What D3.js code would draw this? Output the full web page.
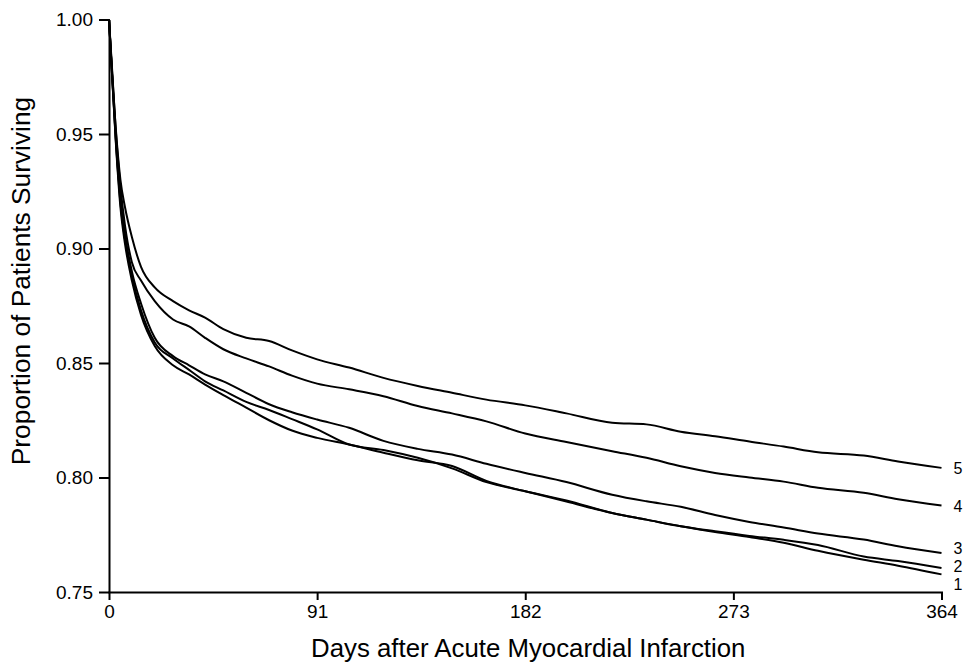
<!DOCTYPE html>
<html>
<head>
<meta charset="utf-8">
<script src="https://cdn.jsdelivr.net/npm/d3@7"></script>
<style>
    body { margin: 0; background: #fff; }
    #chart { width: 964px; height: 663px; }
    text { font-family: "Liberation Sans", Arial, Helvetica, sans-serif; fill: #000; }
</style>
</head>
<body>
<div id="chart"></div>
<script>
// ===== DATA =====
const days = [0, 1, 3, 5, 7, 10, 14, 20, 28, 35, 42, 50, 60, 70, 80, 91, 105, 120, 135, 150,
    165, 182, 200, 220, 235, 250, 265, 280, 295, 310, 330, 345, 364];

const group1 = [1.0, 0.982, 0.946, 0.918, 0.902, 0.886, 0.871, 0.8574, 0.849, 0.845, 0.8406, 0.836,
    0.8305, 0.825, 0.8205, 0.8173, 0.8144, 0.8108, 0.8075, 0.805, 0.7985, 0.794, 0.7895, 0.7845,
    0.7816, 0.7787, 0.7762, 0.774, 0.7715, 0.768, 0.7641, 0.7615, 0.7577];
const group2 = [1.0, 0.982, 0.947, 0.92, 0.904, 0.888, 0.873, 0.859, 0.852, 0.847, 0.842, 0.838,
    0.833, 0.8295, 0.8255, 0.821, 0.8144, 0.812, 0.8086, 0.804, 0.798, 0.794, 0.79, 0.7845,
    0.7816, 0.7787, 0.7765, 0.7745, 0.7728, 0.7705, 0.7655, 0.7635, 0.7605];
const group3 = [1.0, 0.982, 0.948, 0.922, 0.906, 0.89, 0.876, 0.861, 0.853, 0.849, 0.845, 0.842,
    0.837, 0.832, 0.8285, 0.8253, 0.8217, 0.816, 0.8125, 0.81, 0.806, 0.802, 0.798, 0.7925,
    0.7896, 0.7872, 0.7836, 0.7806, 0.7782, 0.7755, 0.7729, 0.77, 0.767];
const group4 = [1.0, 0.983, 0.951, 0.927, 0.91, 0.894, 0.886, 0.877, 0.869, 0.866, 0.861, 0.856,
    0.852, 0.8485, 0.8445, 0.841, 0.8385, 0.8355, 0.8312, 0.828, 0.8245, 0.8192, 0.8155, 0.8115,
    0.8086, 0.8049, 0.802, 0.8, 0.7982, 0.7955, 0.7933, 0.7905, 0.7878];
const group5 = [1.0, 0.984, 0.952, 0.93, 0.918, 0.905, 0.892, 0.883, 0.877, 0.873, 0.8698, 0.8648,
    0.861, 0.8596, 0.8555, 0.8516, 0.848, 0.8435, 0.84, 0.837, 0.834, 0.8315, 0.828, 0.8239,
    0.8232, 0.82, 0.818, 0.8157, 0.8135, 0.811, 0.8096, 0.807, 0.8042];

const groupNames = ["1", "2", "3", "4", "5"];
const groupValues = [group1, group2, group3, group4, group5];

const xTicks = [0, 91, 182, 273, 364];
const yTicks = [0.75, 0.80, 0.85, 0.90, 0.95, 1.00];

// ===== CHART =====
const width = 964;
const height = 663;
const margin = { top: 19.5, right: 22.5, bottom: 71, left: 109 };

const svg = d3.select('#chart')
    .append('svg')
    .attr('width', width)
    .attr('height', height);

const x = d3.scaleLinear()
    .domain([0, 364])
    .range([margin.left, width - margin.right]);

const y = d3.scaleLinear()
    .domain([0.75, 1.0])
    .range([height - margin.bottom, margin.top]);

// Axes
const xAxis = svg.append('g')
    .attr('transform', `translate(0,${height - margin.bottom})`)
    .call(d3.axisBottom(x).tickValues(xTicks).tickFormat(d3.format('d'))
        .tickSize(8).tickSizeOuter(0).tickPadding(5));

const yAxis = svg.append('g')
    .attr('transform', `translate(${margin.left},0)`)
    .call(d3.axisLeft(y).tickValues(yTicks).tickFormat(d3.format('.2f'))
        .tickSize(10).tickSizeOuter(0).tickPadding(6));

[xAxis, yAxis].forEach(ax => {
    ax.selectAll('path, line').attr('stroke', '#000').attr('stroke-width', 2);
    ax.selectAll('text').attr('font-size', '19px').attr('fill', '#000');
});
xAxis.select('.domain').attr('stroke-linecap', 'square');

// Axis titles
svg.append('text')
    .attr('x', (x(0) + x(364)) / 2 + 3)
    .attr('y', 657)
    .attr('text-anchor', 'middle')
    .attr('font-size', '25.8px')
    .text('Days after Acute Myocardial Infarction');

svg.append('text')
    .attr('transform', 'translate(30,281) rotate(-90)')
    .attr('text-anchor', 'middle')
    .attr('font-size', '26.3px')
    .text('Proportion of Patients Surviving');

// Survival curves
const line = d3.line()
    .x((d, i) => x(days[i]))
    .y(d => y(d))
    .curve(d3.curveMonotoneX);

svg.append('g')
    .selectAll('path')
    .data(groupValues)
    .enter().append('path')
    .attr('d', d => line(d))
    .attr('fill', 'none')
    .attr('stroke', '#000')
    .attr('stroke-width', 2)
    .attr('stroke-linejoin', 'round');

// End labels (small nudges keep 1/2/3 apart)
const labelNudge = [10, -2, -5, 1, 1];
svg.append('g')
    .selectAll('text')
    .data(groupValues)
    .enter().append('text')
    .attr('x', x(364) + 12)
    .attr('y', (d, i) => y(d[d.length - 1]) + labelNudge[i])
    .attr('dy', '0.35em')
    .attr('font-size', '16px')
    .text((d, i) => groupNames[i]);
</script>
</body>
</html>
